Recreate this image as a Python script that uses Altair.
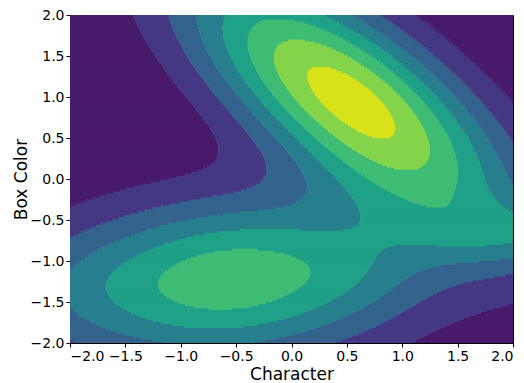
import numpy as np
import pandas as pd
import altair as alt

# Axis ticks
x_ticks = [-2.0, -1.5, -1.0, -0.5, 0.0, 0.5, 1.0, 1.5, 2.0]
y_ticks = [-2.0, -1.5, -1.0, -0.5, 0.0, 0.5, 1.0, 1.5, 2.0]

# Filled-contour band colours (lowest -> highest)
band_colors = ["#481a6c", "#453882", "#33638d", "#277f8e",
               "#1fa187", "#3fbc73", "#84d44b", "#d8e219"]
# Contour thresholds (field units)
levels = [1, 2, 3, 4, 5, 6, 7]

# Field = sum of bivariate Gaussian bumps
comp_amp = [7.48, 5.7, 1.8, 0.35, 0.45]
comp_mx = [0.52, -0.55, 2.3, 0.6, -2.0]
comp_my = [0.98, -1.22, -0.65, -1.15, -1.3]
comp_sxx = [1.04, 1.42, 0.6, 0.15, 0.2]
comp_syy = [1.2, 0.5, 0.075, 0.1, 0.2]
comp_sxy = [-0.79, 0.12, 0.0, 0.0, 0.0]


def field(x, y):
    z = np.zeros_like(x, dtype=float)
    for a, mx, my, sxx, syy, sxy in zip(comp_amp, comp_mx, comp_my,
                                         comp_sxx, comp_syy, comp_sxy):
        det = sxx * syy - sxy * sxy
        dx = x - mx
        dy = y - my
        q = (syy * dx * dx - 2 * sxy * dx * dy + sxx * dy * dy) / det
        z += a * np.exp(-0.5 * q)
    return z


# Build horizontal runs of equal band (one row of cells per ~2 px)
NY = 166
NX = 1201
y_edges = np.linspace(-2, 2, NY + 1)
xs = np.linspace(-2, 2, NX)
rows = []
for i in range(NY):
    y0, y1 = y_edges[i], y_edges[i + 1]
    yc = 0.5 * (y0 + y1)
    z = field(xs, np.full_like(xs, yc))
    band = np.searchsorted(np.array(levels), z, side="right")
    change = np.nonzero(np.diff(band))[0]
    starts = np.concatenate([[0], change + 1])
    ends = np.concatenate([change, [NX - 1]])
    pad = 0.35 * (y1 - y0)
    for s, e in zip(starts, ends):
        xa = -2.0 if s == 0 else 0.5 * (xs[s - 1] + xs[s])
        xb = 2.0 if e == NX - 1 else 0.5 * (xs[e] + xs[e + 1])
        rows.append({"x": xa, "x2": xb,
                     "y": max(-2.0, y0 - pad), "y2": min(2.0, y1 + pad),
                     "band": int(band[s])})
df = pd.DataFrame(rows)

chart = alt.Chart(df).mark_rect(clip=True).encode(
    x=alt.X("x:Q", scale=alt.Scale(domain=[-2, 2], nice=False, zero=False),
            axis=alt.Axis(values=x_ticks, format=".1f", title="Character")),
    x2="x2:Q",
    y=alt.Y("y:Q", scale=alt.Scale(domain=[-2, 2], nice=False, zero=False),
            axis=alt.Axis(values=y_ticks, format=".1f", title="Box Color")),
    y2="y2:Q",
    color=alt.Color("band:O",
                    scale=alt.Scale(domain=list(range(8)), range=band_colors),
                    legend=None),
).properties(
    width=443, height=328,
    padding={"left": 62, "top": 7, "right": 3, "bottom": 40},
    autosize=alt.AutoSizeParams(type="none"),
).configure_view(
    stroke="black", strokeWidth=1
).configure_axis(
    grid=False,
    domainColor="black", tickColor="black", labelColor="black",
    titleColor="black",
    labelFont="DejaVu Sans", titleFont="DejaVu Sans",
    labelFontSize=14, titleFontSize=17, titleFontWeight="normal",
    tickSize=4, labelPadding=2,
).configure_axisX(titlePadding=3).configure_axisY(titlePadding=0)

chart.save("out.html", embed_options={"renderer": "svg", "actions": False})
